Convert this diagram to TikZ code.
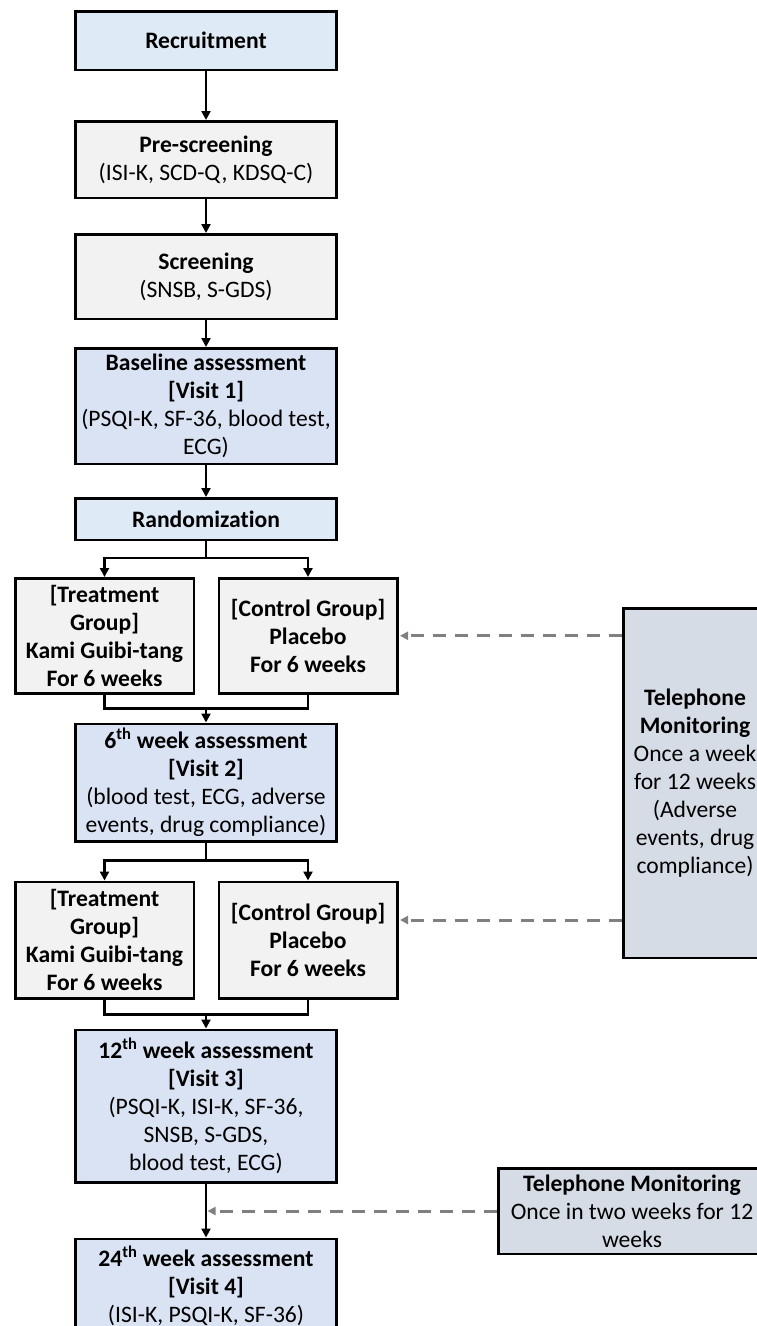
\documentclass[tikz,border=0pt]{standalone}
\usepackage{fontspec}
\setmainfont{Carlito}[Ligatures=NoCommon]
\usetikzlibrary{positioning,calc,arrows.meta}

\definecolor{stepblue}{HTML}{DEEBF7}
\definecolor{visitblue}{HTML}{DAE3F3}
\definecolor{phonegrey}{HTML}{D6DCE5}
\definecolor{boxgrey}{HTML}{F2F2F2}

\begin{document}
\begin{tikzpicture}[
    x=1pt, y=1pt,
    box/.style={rectangle, draw=black, line width=2.5pt, align=center, inner sep=2pt, font=\fontsize{23.6}{28}\selectfont, minimum width=261pt},
    bluebox/.style={box, fill=stepblue},
    visit/.style={box, fill=visitblue},
    greybox/.style={box, fill=boxgrey},
    group/.style={greybox, minimum width=178.5pt, minimum height=115pt},
    phone/.style={box, fill=phonegrey},
    arrow/.style={-{Triangle[length=9pt,width=9pt]}, line width=2.5pt},
    dasharrow/.style={-{Triangle[length=8pt,width=8pt]}, line width=3pt, gray, dash pattern=on 13pt off 9pt, shorten >=1.5pt}
]
    \useasboundingbox (0,0) rectangle (757,-1326);

    \node[bluebox, minimum height=58.5pt] (recruit) at (206,-40.5) {\textbf{Recruitment}};
    \node[greybox, minimum height=76.5pt, below=49pt of recruit] (pre) {\textbf{Pre-screening}\\(ISI-K, SCD-Q, KDSQ-C)};
    \node[greybox, minimum height=84.5pt, below=34pt of pre] (screen) {\textbf{Screening}\\(SNSB, S-GDS)};
    \node[visit, minimum height=115.5pt, below=27pt of screen] (base) {\textbf{Baseline assessment}\\\textbf{[Visit 1]}\\(PSQI-K, SF-36, blood test,\\ECG)};
    \node[bluebox, minimum height=41.5pt, below=32pt of base] (rand) {\textbf{Randomization}};

    \node[group, below=36pt of rand, xshift=-101.5pt] (treat1) {\textbf{[Treatment}\\\textbf{Group]}\\\textbf{Kami Guibi-tang}\\\textbf{For 6 weeks}};
    \node[group, below=36pt of rand, xshift=102pt] (control1) {\textbf{[Control Group]}\\\textbf{Placebo}\\\textbf{For 6 weeks}};
    \node[visit, minimum height=117.5pt, below=28pt of treat1, xshift=101.5pt] (week6) {\textbf{6\textsuperscript{th} week assessment}\\\textbf{[Visit 2]}\\(blood test, ECG, adverse\\events, drug compliance)};

    \node[group, minimum height=116.5pt, below=38pt of week6, xshift=-101.5pt] (treat2) {\textbf{[Treatment}\\\textbf{Group]}\\\textbf{Kami Guibi-tang}\\\textbf{For 6 weeks}};
    \node[group, minimum height=116.5pt, below=38pt of week6, xshift=102pt] (control2) {\textbf{[Control Group]}\\\textbf{Placebo}\\\textbf{For 6 weeks}};
    \node[visit, minimum height=152.5pt, below=29pt of treat2, xshift=101.5pt] (week12) {\textbf{12\textsuperscript{th} week assessment}\\\textbf{[Visit 3]}\\(PSQI-K, ISI-K, SF-36,\\SNSB, S-GDS,\\blood test, ECG)};
    \node[visit, minimum height=94pt, below=54pt of week12] (week24) {\textbf{24\textsuperscript{th} week assessment}\\\textbf{[Visit 4]}\\(ISI-K, PSQI-K, SF-36)};

    % telephone follow-up
    \node[phone, minimum width=143.5pt, minimum height=349.5pt] (tel1) at (695,-783) {\textbf{Telephone}\\\textbf{Monitoring}\\Once a week\\for 12 weeks\\(Adverse\\events, drug\\compliance)};
    \node[phone, minimum width=267.5pt, minimum height=85.5pt] (tel2) at (632,-1211) {\textbf{Telephone Monitoring}\\Once in two weeks for 12\\weeks};

    \draw[arrow] (recruit) -- (pre);
    \draw[arrow] (pre) -- (screen);
    \draw[arrow] (screen) -- (base);
    \draw[arrow] (base) -- (rand);

    % first split and merge
    \coordinate (split1) at ($(rand.south)+(0,-17)$);
    \draw[arrow] (rand.south) -- (split1) -| (treat1.north);
    \draw[arrow] (split1) -| (control1.north);
    \coordinate (merge1) at ($(week6.north)+(0,14)$);
    \draw[line width=2.5pt] (treat1.south) |- (merge1) -| (control1.south);
    \draw[arrow] (merge1) -- (week6.north);

    % second split and merge
    \coordinate (split2) at ($(week6.south)+(0,-18)$);
    \draw[arrow] (week6.south) -- (split2) -| (treat2.north);
    \draw[arrow] (split2) -| (control2.north);
    \coordinate (merge2) at ($(week12.north)+(0,14)$);
    \draw[line width=2.5pt] (treat2.south) |- (merge2) -| (control2.south);
    \draw[arrow] (merge2) -- (week12.north);

    \draw[arrow] (week12) -- (week24);

    \draw[dasharrow] (tel1.west |- control1.east) -- (control1.east);
    \draw[dasharrow] ($(tel1.west |- control2.east)+(0,20)$) -- ($(control2.east)+(0,20)$);
    \draw[dasharrow] (tel2.west) -- (tel2.west -| week12.south);
\end{tikzpicture}
\end{document}
